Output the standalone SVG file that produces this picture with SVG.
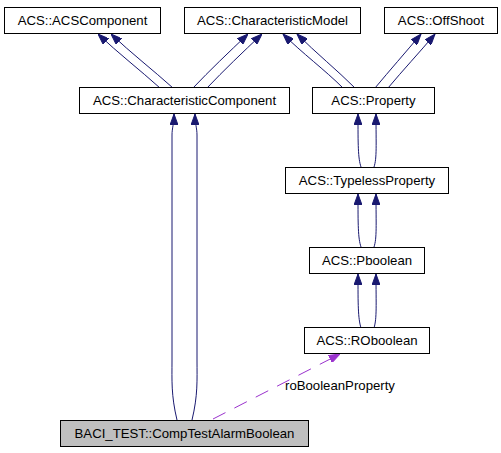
<svg xmlns="http://www.w3.org/2000/svg" width="501" height="453" viewBox="0 0 501 453">
<style>
.box{fill:#ffffff;stroke:#000000;stroke-width:1}
.grey{fill:#bfbfbf}
.lbl{font-family:"Liberation Sans",Arial,sans-serif;font-size:13.2px;fill:#000000;text-anchor:middle}
.inh{fill:none;stroke:#191970;stroke-width:1}
.use{fill:none;stroke:#9a32cd;stroke-width:1;stroke-dasharray:14,10}
.elbl{font-family:"Liberation Sans",Arial,sans-serif;font-size:13.2px;fill:#000000}
</style>
<defs>
<marker id="an" viewBox="0 0 11 8" refX="11" refY="4" markerWidth="11" markerHeight="8" markerUnits="userSpaceOnUse" orient="auto">
<path d="M0,0 L11,4 L0,8 z" fill="#191970" stroke="#191970"/>
</marker>
<marker id="ap" viewBox="0 0 11 8" refX="11" refY="4" markerWidth="11" markerHeight="8" markerUnits="userSpaceOnUse" orient="auto">
<path d="M0,0 L11,4 L0,8 z" fill="#9a32cd" stroke="#9a32cd"/>
</marker>
</defs>
<g id="edges">
<path class="inh" marker-end="url(#an)" d="M160,88 C140,70 118,53 98,34"/>
<path class="inh" marker-end="url(#an)" d="M173,88 C153,70 131,53 111,34"/>
<path class="inh" marker-end="url(#an)" d="M193,88 C210,70 228,53 248,34"/>
<path class="inh" marker-end="url(#an)" d="M207,88 C224,70 242,53 262,34"/>
<path class="inh" marker-end="url(#an)" d="M343,88 C325,70 302,53 283,34"/>
<path class="inh" marker-end="url(#an)" d="M355,88 C337,70 316,53 297,34"/>
<path class="inh" marker-end="url(#an)" d="M375,88 C390,70 405,53 421,34"/>
<path class="inh" marker-end="url(#an)" d="M388,88 C403,70 419,53 435,34"/>
<path class="inh" marker-end="url(#an)" d="M177,420 C171,395 172,380 172,360 L172,135 C172,128 174,124 174,114"/>
<path class="inh" marker-end="url(#an)" d="M192,420 C198,395 197,380 197,360 L197,135 C197,128 195,124 195,114"/>
<path class="inh" marker-end="url(#an)" d="M361,167 C358,158 358,145 358,114"/>
<path class="inh" marker-end="url(#an)" d="M374,167 C377,158 376,145 376,114"/>
<path class="inh" marker-end="url(#an)" d="M361,247 C358,238 358,225 358,194"/>
<path class="inh" marker-end="url(#an)" d="M374,247 C377,238 376,225 376,194"/>
<path class="inh" marker-end="url(#an)" d="M361,328 C358,318 358,305 358,274"/>
<path class="inh" marker-end="url(#an)" d="M374,328 C377,318 376,305 376,274"/>
<path class="use" marker-end="url(#ap)" d="M213,419 L340,354"/>
<text class="elbl" x="285" y="390">roBooleanProperty</text>
</g>
<g id="n_acscomponent"><rect class="box" x="4.5" y="7.5" width="156" height="26"/><text class="lbl" x="82.5" y="25">ACS::ACSComponent</text></g>
<g id="n_characteristicmodel"><rect class="box" x="184.5" y="7.5" width="176" height="26"/><text class="lbl" x="272.5" y="25">ACS::CharacteristicModel</text></g>
<g id="n_offshoot"><rect class="box" x="384.5" y="7.5" width="113" height="26"/><text class="lbl" x="441" y="25">ACS::OffShoot</text></g>
<g id="n_characteristiccomponent"><rect class="box" x="79.5" y="87.5" width="210" height="26"/><text class="lbl" x="184.5" y="105">ACS::CharacteristicComponent</text></g>
<g id="n_property"><rect class="box" x="312.5" y="87.5" width="122" height="26"/><text class="lbl" x="373.5" y="105">ACS::Property</text></g>
<g id="n_typelessproperty"><rect class="box" x="285.5" y="167.5" width="163" height="26"/><text class="lbl" x="367" y="185">ACS::TypelessProperty</text></g>
<g id="n_pboolean"><rect class="box" x="309.5" y="247.5" width="115" height="26"/><text class="lbl" x="367" y="265">ACS::Pboolean</text></g>
<g id="n_roboolean"><rect class="box" x="304.5" y="327.5" width="125" height="26"/><text class="lbl" x="367" y="345">ACS::ROboolean</text></g>
<g id="n_baci"><rect class="box grey" x="60.5" y="420.5" width="248" height="26"/><text class="lbl" x="184.5" y="438">BACI_TEST::CompTestAlarmBoolean</text></g>
</svg>
